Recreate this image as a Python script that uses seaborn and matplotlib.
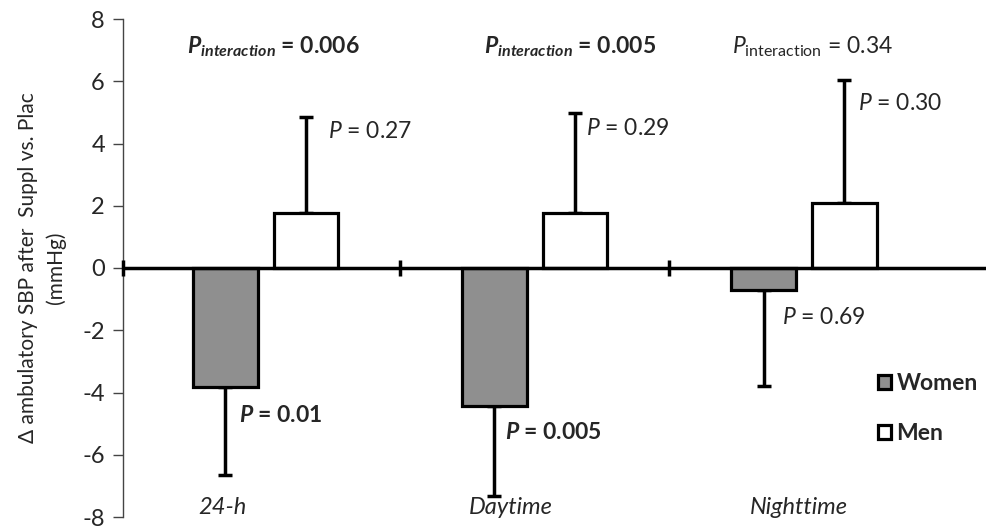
import pandas as pd
import matplotlib
matplotlib.use("Agg")
import matplotlib.pyplot as plt
import seaborn as sns

# values
periods = ["24-h", "Daytime", "Nighttime"]
women_delta = [-3.83, -4.42, -0.72]
men_delta = [1.77, 1.77, 2.09]
women_err = [2.82, 2.90, 3.08]
men_err = [3.08, 3.21, 3.94]
women_p = ["0.01", "0.005", "0.69"]
men_p = ["0.27", "0.29", "0.30"]
women_p_bold = [True, True, False]
interaction_p = ["0.006", "0.005", "0.34"]
interaction_bold = [True, True, False]

df = pd.DataFrame({
    "period": periods * 2,
    "delta": women_delta + men_delta,
    "sex": ["Women"] * 3 + ["Men"] * 3,
})

sns.set_style("ticks")
font = "Lato"
plt.rcParams["font.family"] = [font, "DejaVu Sans"]
plt.rcParams["axes.unicode_minus"] = False
plt.rcParams["mathtext.fontset"] = "custom"
plt.rcParams["mathtext.rm"] = font
plt.rcParams["mathtext.it"] = f"{font}:italic"
plt.rcParams["mathtext.bf"] = f"{font}:bold"
plt.rcParams["mathtext.bfit"] = f"{font}:italic:bold"

fig = plt.figure(figsize=(9.87, 5.27), dpi=100)
ax = fig.add_axes([123 / 987, 10 / 527, 864 / 987, 498 / 527])

sns.barplot(
    data=df, x="period", y="delta", hue="sex",
    palette={"Women": "#8f8f8f", "Men": "white"},
    edgecolor="black", linewidth=2.3, width=0.6, gap=0.2,
    errorbar=None, ax=ax, zorder=3,
)

# one-sided error bars
for container, errs, down in zip(ax.containers, [women_err, men_err], [True, False]):
    xs = [b.get_x() + b.get_width() / 2 for b in container]
    ys = [b.get_height() for b in container]
    zeros = [0] * len(errs)
    yerr = [errs, zeros] if down else [zeros, errs]
    ax.errorbar(xs, ys, yerr=yerr, fmt="none", ecolor="black",
                elinewidth=2.5, capsize=5, capthick=2.5, zorder=2)

women_x = [b.get_x() + b.get_width() / 2 for b in ax.containers[0]]
men_x = [b.get_x() + b.get_width() / 2 for b in ax.containers[1]]

ax.set_xlim(-0.53, 2.68)
ax.set_ylim(-8, 8)
ax.set_yticks(range(-8, 9, 2))

# zero line with small ticks at category boundaries
ax.axhline(0, color="black", lw=2.5, zorder=4)
ax.vlines([-0.53, 0.5, 1.5], -0.25, 0.25, color="black", lw=2.5, zorder=4,
          clip_on=False)

sns.despine(ax=ax, top=True, right=True, bottom=True)
ax.spines["left"].set_color("#444444")
ax.spines["left"].set_linewidth(1)
ax.tick_params(axis="y", length=7, width=1, color="#444444", labelsize=17, pad=6)
ax.tick_params(axis="x", length=0)
ax.set_xticklabels([])
ax.set_xlabel("")
ax.set_ylabel("Δ ambulatory SBP after  Suppl vs. Plac\n(mmHg)",
              fontsize=15, labelpad=12, linespacing=1.4)

# category names inside the plot
for i, (name, dx) in enumerate(zip(periods, [-0.16, -0.09, -0.02])):
    ax.text(i + dx, -7.7, name, style="italic", ha="center", va="center", fontsize=17)

# interaction p-values
for i, (p, bold, dx) in enumerate(zip(interaction_p, interaction_bold, [0.03, 0.13, 0.03])):
    if bold:
        s = r"$\mathbfit{P}_{\mathbfit{interaction}}$" + f" = {p}"
        w = "bold"
    else:
        s = r"$\mathit{P}_{\mathrm{interaction}}$" + f" = {p}"
        w = "normal"
    ax.text(i + dx, 7.1, s, ha="center", va="center", fontsize=16.5, fontweight=w)

# per-group p-values
for x, p, bold, dx, y in zip(women_x, women_p, women_p_bold, [0.05, 0.04, 0.07],
                             [-4.73, -5.3, -1.6]):
    if bold:
        s = r"$\mathbfit{P}$" + f" = {p}"
        w = "bold"
    else:
        s = r"$\mathit{P}$" + f" = {p}"
        w = "normal"
    ax.text(x + dx, y, s, ha="left", va="center", fontsize=16.5, fontweight=w)

for x, p, dx, y in zip(men_x, men_p, [0.08, 0.04, 0.05], [4.4, 4.47, 5.3]):
    ax.text(x + dx, y, r"$\mathit{P}$" + f" = {p}", ha="left", va="center", fontsize=16.5)

handles, labels = ax.get_legend_handles_labels()
ax.legend(handles, labels, loc="upper left", bbox_to_anchor=(0.85, 0.33),
          frameon=False, handlelength=0.55, handleheight=0.6, handletextpad=0.25,
          labelspacing=1.25, prop={"weight": "bold", "size": 16.5})

fig.savefig("out.png", dpi=100)
